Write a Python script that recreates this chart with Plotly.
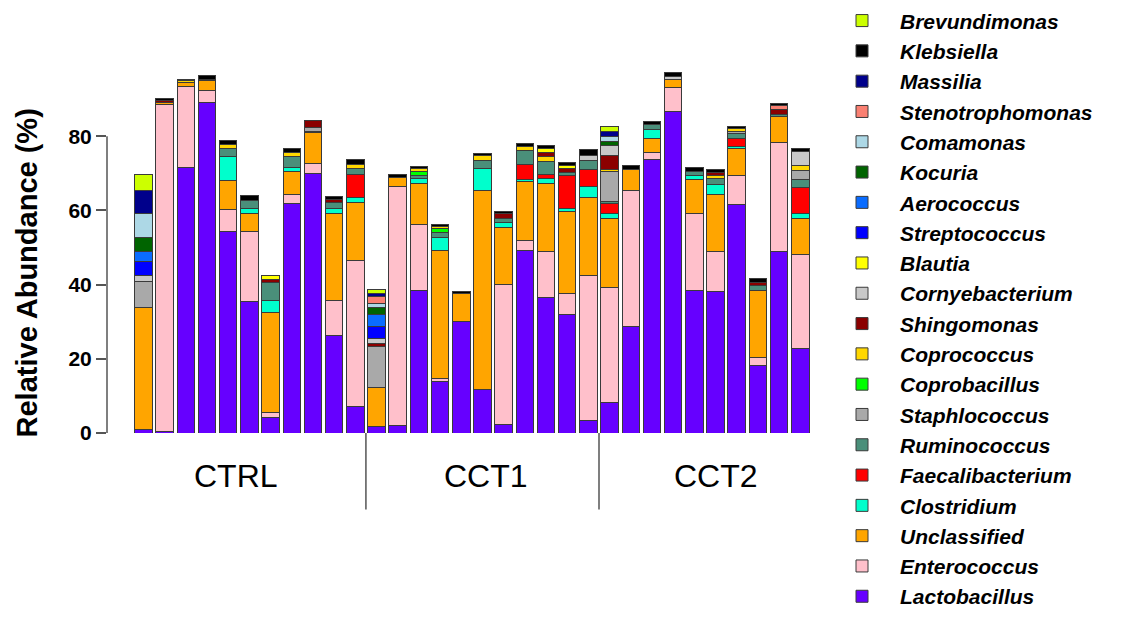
import plotly.graph_objects as go

# ---------------- data ----------------
samples = ([f"CTRL-{i}" for i in range(1, 12)] +
           [f"CCT1-{i}" for i in range(1, 12)] +
           [f"CCT2-{i}" for i in range(1, 11)])

groups = ["CTRL", "CCT1", "CCT2"]
y_ticks = [0, 20, 40, 60, 80]

# stacking order bottom -> top
species = ["Lactobacillus", "Enterococcus", "Unclassified", "Clostridium",
           "Faecalibacterium", "Ruminococcus", "Staphlococcus", "Coprobacillus",
           "Coprococcus", "Shingomonas", "Cornyebacterium", "Blautia",
           "Streptococcus", "Aerococcus", "Kocuria", "Comamonas",
           "Stenotrophomonas", "Massilia", "Klebsiella", "Brevundimonas"]

lactobacillus = [0.9, 0.3, 71.6, 89.1, 54.3, 35.5, 4.2, 61.9, 70.0, 26.2, 7.1,
                 1.8, 2.0, 38.4, 13.8, 30.0, 11.6, 2.4, 49.3, 36.6, 31.9, 3.3,
                 8.3, 28.8, 73.7, 86.7, 38.4, 38.1, 61.5, 18.1, 49.0, 22.8]
enterococcus = [0, 88.3, 21.7, 3.1, 5.9, 18.8, 1.3, 2.5, 2.7, 9.4, 39.5,
                0, 64.4, 17.8, 0.9, 0, 0, 37.6, 2.5, 12.3, 5.8, 39.1,
                31.0, 36.7, 2.0, 6.3, 20.9, 10.8, 7.8, 2.2, 29.4, 25.2]
unclassified = [33.0, 0.6, 1.2, 2.7, 7.8, 5.0, 27.0, 6.0, 8.2, 23.6, 15.5,
                10.5, 2.5, 11.0, 34.6, 7.5, 53.7, 15.5, 16.0, 18.4, 21.9, 21.1,
                18.6, 5.4, 3.6, 2.2, 9.0, 15.5, 7.4, 18.0, 7.0, 9.9]
clostridium = [0, 0, 0, 0, 6.6, 1.1, 3.1, 1.2, 0, 1.3, 1.3,
               0, 0, 1.3, 3.4, 0, 6.0, 1.3, 0.6, 1.4, 1.0, 2.9,
               1.4, 0, 2.5, 0, 1.1, 2.5, 0.5, 0, 0, 1.3]
faecalibacterium = [0, 0, 0, 0, 0, 0, 0, 0, 0, 0, 6.3,
                    0, 0, 0, 0, 0, 0, 0, 4.0, 1.1, 8.7, 4.5,
                    2.6, 0, 0, 0, 0, 0, 2.2, 0, 0, 7.1]
ruminococcus = [0, 0, 0, 0, 2.0, 2.2, 4.9, 3.0, 0.5, 1.5, 1.5,
                0, 0, 0.9, 1.3, 0, 2.1, 1.1, 3.8, 3.3, 0.9, 2.5,
                0.4, 0, 1.3, 0, 1.0, 1.7, 1.4, 1.4, 0.5, 1.9]
staphlococcus = [6.9, 0, 0, 0, 0, 0, 0, 0, 1.0, 0, 0,
                 11.1, 0, 0, 0, 0, 0, 0, 0, 0, 0, 0,
                 8.1, 0, 0, 0, 0, 0, 0.6, 0, 0, 2.6]
coprobacillus = [0, 0, 0, 0, 0, 0, 0, 0, 0, 0, 0,
                 0, 0, 1.1, 1.1, 0, 0, 0, 0, 0, 0, 0,
                 0, 0, 0, 0, 0, 0, 0, 0, 0, 0]
coprococcus = [0, 0, 0.4, 0.5, 1.1, 0, 0, 1.1, 0, 0, 1.2,
               0, 0, 0.7, 0.6, 0, 1.3, 0, 1.0, 1.4, 0, 0,
               0.7, 0, 0, 0, 0, 0.8, 0.6, 0, 0, 1.3]
shingomonas = [0, 0.5, 0, 0, 0, 0, 0.9, 0, 1.8, 0.9, 0,
               0.6, 0, 0, 0, 0, 0, 1.4, 0, 1.1, 1.1, 0,
               3.8, 0, 0, 0, 0, 0.8, 0, 1.0, 1.3, 0]
cornyebacterium = [1.6, 0, 0, 0, 0, 0, 0, 0, 0, 0, 0,
                   1.6, 0, 0, 0, 0, 0, 0, 0, 0, 0, 1.3,
                   2.7, 0, 0, 0.8, 0, 0, 0, 0, 0, 3.9]
blautia = [0, 0, 0, 0, 0, 0, 1.1, 0, 0, 0, 0,
           0, 0, 0, 0, 0, 0, 0, 0, 1.1, 0.9, 0,
           0, 0, 0, 0, 0, 0, 0, 0, 0, 0]
streptococcus = [3.9, 0, 0, 0, 0, 0, 0, 0, 0, 0, 0,
                 3.1, 0, 0, 0, 0, 0, 0, 0, 0, 0, 0,
                 0, 0, 0, 0, 0, 0, 0, 0, 0, 0]
aerococcus = [2.7, 0, 0, 0, 0, 0, 0, 0, 0, 0, 0,
              3.2, 0, 0, 0, 0, 0, 0, 0, 0, 0, 0,
              0, 0, 0, 0, 0, 0, 0, 0, 0, 0]
kocuria = [3.6, 0, 0, 0, 0, 0, 0, 0, 0, 0, 0,
           2.0, 0, 0, 0, 0, 0, 0, 0, 0, 0, 0,
           0.9, 0, 0, 0, 0, 0, 0, 0, 0, 0]
comamonas = [6.6, 0, 0, 0, 0, 0, 0, 0, 0, 0, 0,
             0.9, 0, 0, 0, 0, 0, 0, 0, 0, 0, 0,
             1.4, 0, 0, 0, 0, 0, 0, 0, 0, 0]
stenotrophomonas = [0, 0, 0, 0, 0, 0, 0, 0, 0, 0, 0,
                    2.0, 0, 0, 0, 0, 0, 0, 0, 0, 0, 0,
                    0, 0, 0, 0, 0, 0, 0, 0, 1.2, 0]
massilia = [6.3, 0, 0, 0, 0, 0, 0, 0, 0, 0, 0,
            0.7, 0, 0, 0, 0, 0, 0, 0, 0, 0, 0,
            1.5, 0, 0, 0, 0, 0, 0, 0, 0, 0]
klebsiella = [0, 0.5, 0.5, 0.9, 1.2, 1.3, 0, 0.9, 0, 0.9, 1.2,
              0, 0.9, 0.7, 0.6, 0.7, 0.7, 0.5, 0.9, 0.7, 0.7, 1.6,
              0, 1.3, 0.8, 1.2, 1.2, 0.9, 0.7, 1.0, 0.4, 0.6]
brevundimonas = [4.2, 0, 0, 0, 0, 0, 0, 0, 0, 0, 0,
                 1.3, 0, 0, 0, 0, 0, 0, 0, 0, 0, 0,
                 1.1, 0, 0, 0, 0, 0, 0, 0, 0, 0]

values = [lactobacillus, enterococcus, unclassified, clostridium, faecalibacterium,
          ruminococcus, staphlococcus, coprobacillus, coprococcus, shingomonas,
          cornyebacterium, blautia, streptococcus, aerococcus, kocuria, comamonas,
          stenotrophomonas, massilia, klebsiella, brevundimonas]

colors = ["#6600FF", "#FFC0CB", "#FFA500", "#00FFCC", "#FF0000", "#4A8F7A",
          "#A9A9A9", "#00FF00", "#FFD700", "#8B0000", "#C8C8C8", "#FFFF00",
          "#0000FF", "#0A6CFF", "#006400", "#ADD8E6", "#FA8072", "#00008B",
          "#000000", "#CCFF00"]

# ---------------- figure ----------------
fig = go.Figure()
for name, vals, col in zip(species, values, colors):
    fig.add_trace(go.Bar(x=samples, y=vals, name=name,
                         marker=dict(color=col, line=dict(color="#3a3a3a", width=1))))

# page body has an 8px margin, so the figure is 8px smaller in each direction
W, H = 1123, 609
L, R, T, B = 99, 318, 53.7, 183.7
PW, PH = W - L - R, H - T - B
fig.update_layout(
    width=W, height=H, barmode="stack", bargap=0.174,
    margin=dict(l=L, r=R, t=T, b=B, autoexpand=False),
    paper_bgcolor="white", plot_bgcolor="white",
    font=dict(family="Liberation Sans, Arial, sans-serif", color="black"),
    showlegend=True,
    legend=dict(traceorder="reversed", x=1.0156, xanchor="left", y=1.166, yanchor="top",
                itemwidth=66, bgcolor="rgba(0,0,0,0)",
                font=dict(size=21, weight="bold", style="italic", color="black")),
    xaxis=dict(range=[-1.72, 31.6], showticklabels=False, showgrid=False,
               showline=False, ticks="", zeroline=False),
    yaxis=dict(range=[0, 100], tickvals=y_ticks, ticks="outside", ticklen=10,
               tickwidth=1.5, tickcolor="#555555", showline=False, showgrid=False,
               zeroline=False,
               tickfont=dict(size=21, weight="bold", color="black")),
)
try:
    fig.update_layout(legend_maxheight=800)
except Exception:
    pass

# y axis line only spanning 0..80
fig.add_shape(type="line", xref="paper", yref="y", x0=0, x1=0, y0=0, y1=max(y_ticks),
              line=dict(color="#555555", width=1.5))

# y title
fig.add_annotation(text="Relative Abundance (%)", xref="paper", yref="y",
                   x=-(L - 19) / PW, y=43, textangle=-90, showarrow=False,
                   xanchor="center", yanchor="middle",
                   font=dict(size=29, weight="bold", color="black"))

# group labels and dividers
group_x = [4.39, 16.19, 27.04]
for g, gx in zip(groups, group_x):
    fig.add_annotation(text=g, x=gx, y=-42.7 / PH, xref="x", yref="paper",
                       showarrow=False, yanchor="middle",
                       font=dict(size=32, color="black"))
for dx in [10.5, 21.5]:
    fig.add_shape(type="line", xref="x", yref="paper", x0=dx, x1=dx, y0=0,
                  y1=-76.7 / PH, line=dict(color="#555555", width=1.5))

fig.write_html("out.html")
